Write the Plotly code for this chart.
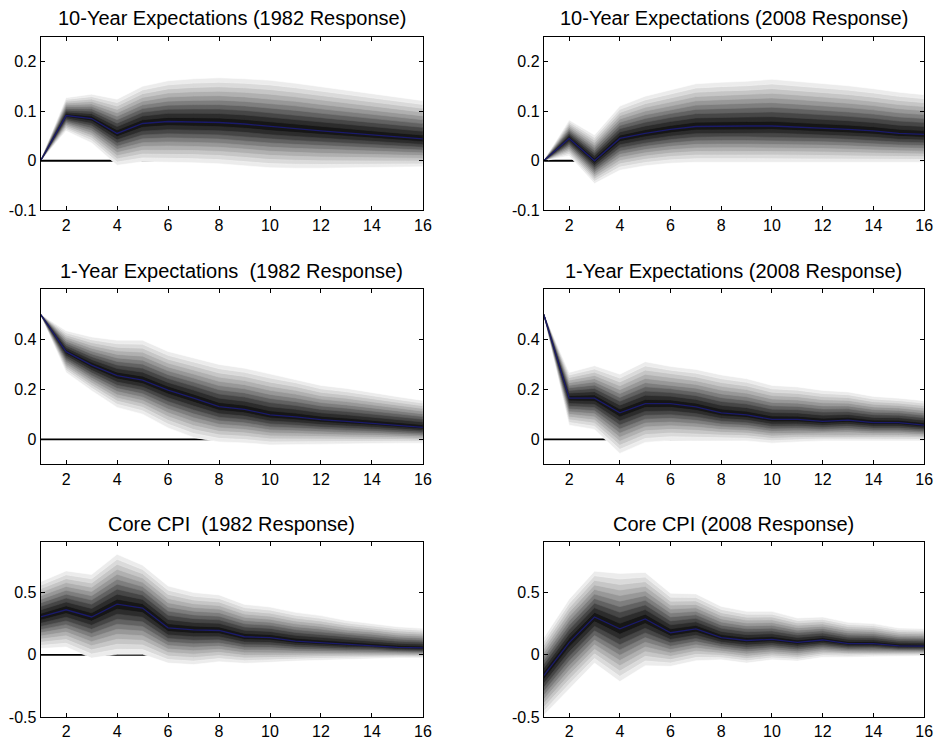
import plotly.graph_objects as go

horizon = list(range(1, 17))

titles = [
    "10-Year Expectations (1982 Response)",
    "10-Year Expectations (2008 Response)",
    "1-Year Expectations \u00a0(1982 Response)",
    "1-Year Expectations (2008 Response)",
    "Core CPI \u00a0(1982 Response)",
    "Core CPI (2008 Response)",
]

# median responses
med_10y_1982 = [0, 0.091, 0.085, 0.055, 0.075, 0.079, 0.078, 0.077, 0.074, 0.069, 0.065, 0.060, 0.056, 0.052, 0.048, 0.044]
med_10y_2008 = [0, 0.045, 0.000, 0.045, 0.055, 0.063, 0.069, 0.070, 0.070, 0.070, 0.068, 0.066, 0.063, 0.060, 0.055, 0.053]
med_1y_1982 = [0.5, 0.351, 0.297, 0.255, 0.237, 0.197, 0.165, 0.131, 0.120, 0.098, 0.090, 0.079, 0.072, 0.065, 0.058, 0.048]
med_1y_2008 = [0.5, 0.165, 0.165, 0.106, 0.143, 0.143, 0.130, 0.106, 0.098, 0.080, 0.080, 0.072, 0.077, 0.067, 0.067, 0.057]
med_cpi_1982 = [0.303, 0.361, 0.303, 0.406, 0.375, 0.216, 0.200, 0.195, 0.145, 0.138, 0.110, 0.098, 0.085, 0.078, 0.060, 0.055]
med_cpi_2008 = [-0.166, 0.098, 0.303, 0.208, 0.288, 0.177, 0.208, 0.137, 0.115, 0.124, 0.100, 0.119, 0.090, 0.090, 0.072, 0.070]

# outermost upper bounds
up_10y_1982 = [0, 0.127, 0.134, 0.124, 0.150, 0.161, 0.165, 0.167, 0.165, 0.162, 0.156, 0.149, 0.142, 0.135, 0.128, 0.121]
up_10y_2008 = [0, 0.082, 0.052, 0.110, 0.130, 0.143, 0.155, 0.158, 0.160, 0.164, 0.160, 0.156, 0.151, 0.145, 0.138, 0.133]
up_1y_1982 = [0.5, 0.435, 0.410, 0.397, 0.397, 0.352, 0.326, 0.300, 0.285, 0.262, 0.242, 0.216, 0.204, 0.186, 0.171, 0.156]
up_1y_2008 = [0.5, 0.268, 0.295, 0.261, 0.311, 0.292, 0.280, 0.258, 0.243, 0.216, 0.210, 0.196, 0.190, 0.172, 0.165, 0.155]
up_cpi_1982 = [0.585, 0.672, 0.643, 0.805, 0.718, 0.551, 0.499, 0.480, 0.404, 0.383, 0.340, 0.314, 0.275, 0.252, 0.225, 0.212]
up_cpi_2008 = [0.137, 0.446, 0.670, 0.652, 0.660, 0.493, 0.488, 0.388, 0.348, 0.348, 0.295, 0.303, 0.260, 0.250, 0.215, 0.210]

# outermost lower bounds
lo_10y_1982 = [0, 0.060, 0.036, -0.009, -0.002, -0.003, -0.004, -0.006, -0.010, -0.014, -0.015, -0.015, -0.015, -0.014, -0.013, -0.012]
lo_10y_2008 = [0, 0.010, -0.046, -0.019, -0.010, -0.005, -0.003, -0.003, -0.003, -0.003, -0.003, -0.003, -0.003, -0.003, -0.003, -0.003]
lo_1y_1982 = [0.5, 0.268, 0.195, 0.128, 0.101, 0.046, 0.008, -0.010, -0.014, -0.022, -0.021, -0.020, -0.018, -0.016, -0.015, -0.015]
lo_1y_2008 = [0.5, 0.057, 0.040, -0.056, -0.012, -0.004, -0.004, -0.005, -0.006, -0.015, -0.010, -0.006, -0.006, -0.006, -0.006, -0.006]
lo_cpi_1982 = [0.050, 0.063, -0.026, 0.004, 0.005, -0.066, -0.078, -0.055, -0.068, -0.060, -0.050, -0.042, -0.038, -0.030, -0.025, -0.025]
lo_cpi_2008 = [-0.483, -0.272, -0.066, -0.214, -0.087, -0.092, -0.047, -0.040, -0.066, -0.040, -0.050, -0.020, -0.020, -0.015, -0.010, -0.010]

# fan band levels (fraction of outer spread) and their grey shades
band_levels = [1.0, 0.9, 0.8, 0.7, 0.6, 0.5, 0.4, 0.3, 0.2, 0.1]
band_greys = [236, 218, 198, 176, 152, 126, 98, 70, 44, 22]

medians = [med_10y_1982, med_10y_2008, med_1y_1982, med_1y_2008, med_cpi_1982, med_cpi_2008]
uppers = [up_10y_1982, up_10y_2008, up_1y_1982, up_1y_2008, up_cpi_1982, up_cpi_2008]
lowers = [lo_10y_1982, lo_10y_2008, lo_1y_1982, lo_1y_2008, lo_cpi_1982, lo_cpi_2008]

y_ranges = [[-0.1, 0.25], [-0.1, 0.25], [-0.1, 0.6], [-0.1, 0.6], [-0.5, 0.9], [-0.5, 0.9]]
y_tickvals = [[-0.1, 0, 0.1, 0.2], [-0.1, 0, 0.1, 0.2], [0, 0.2, 0.4], [0, 0.2, 0.4], [-0.5, 0, 0.5], [-0.5, 0, 0.5]]
y_ticktext = [["-0.1", "0", "0.1", "0.2"], ["-0.1", "0", "0.1", "0.2"], ["0", "0.2", "0.4"], ["0", "0.2", "0.4"], ["-0.5", "0", "0.5"], ["-0.5", "0", "0.5"]]
x_tickvals = [2, 4, 6, 8, 10, 12, 14, 16]
x_ticktext = ["2", "4", "6", "8", "10", "12", "14", "16"]

W, H = 948, 751
col_px = [(41, 427), (549, 933)]
row_px = [(37, 213), (293, 470), (549, 726)]
title_px = [18, 274, 530]

fig = go.Figure()
layout = dict(
    width=W, height=H, margin=dict(l=0, r=0, t=0, b=0),
    paper_bgcolor="white", plot_bgcolor="white", showlegend=False,
    font=dict(family="Liberation Sans, Arial, sans-serif", color="black"),
    annotations=[],
)

for i in range(6):
    r, c = divmod(i, 2)
    ax = "" if i == 0 else str(i + 1)
    xa, ya = "x" + ax, "y" + ax
    med, up, lo = medians[i], uppers[i], lowers[i]

    # zero line (under the fan)
    fig.add_trace(go.Scatter(x=[horizon[0], horizon[-1]], y=[0, 0], mode="lines",
                             line=dict(color="black", width=1.8), xaxis=xa, yaxis=ya, hoverinfo="skip"))
    for lev, g in zip(band_levels, band_greys):
        u = [m + lev * (a - m) for m, a in zip(med, up)]
        l = [m - lev * (m - b) for m, b in zip(med, lo)]
        lg = min(255, g + 26)
        fig.add_trace(go.Scatter(
            x=horizon + horizon[::-1], y=u + l[::-1], mode="lines", fill="toself",
            fillcolor=f"rgb({g},{g},{g})", line=dict(color=f"rgb({lg},{lg},{lg})", width=0.6),
            xaxis=xa, yaxis=ya, hoverinfo="skip"))
    fig.add_trace(go.Scatter(x=horizon, y=med, mode="lines",
                             line=dict(color="#1a1a6a", width=1.3), xaxis=xa, yaxis=ya, hoverinfo="skip"))

    x0, x1 = col_px[c]
    y0, y1 = row_px[r]
    axis_common = dict(showline=True, linecolor="black", linewidth=1, mirror="ticks",
                       ticks="inside", ticklen=4, tickwidth=1, tickcolor="black",
                       showgrid=False, zeroline=False, tickfont=dict(size=16, color="black"))
    layout["xaxis" + ax] = dict(domain=[x0 / W, x1 / W], range=[1, 16], anchor=ya,
                                tickvals=x_tickvals, ticktext=x_ticktext, **axis_common)
    layout["yaxis" + ax] = dict(domain=[1 - y1 / H, 1 - y0 / H], range=y_ranges[i], anchor=xa,
                                tickvals=y_tickvals[i], ticktext=y_ticktext[i], **axis_common)
    layout["annotations"].append(dict(
        text=titles[i], x=(x0 + x1) / 2 / W, y=1 - title_px[r] / H, xref="paper", yref="paper",
        xanchor="center", yanchor="middle", showarrow=False, font=dict(size=20, color="black")))

fig.update_layout(**layout)
fig.write_html("out.html")
